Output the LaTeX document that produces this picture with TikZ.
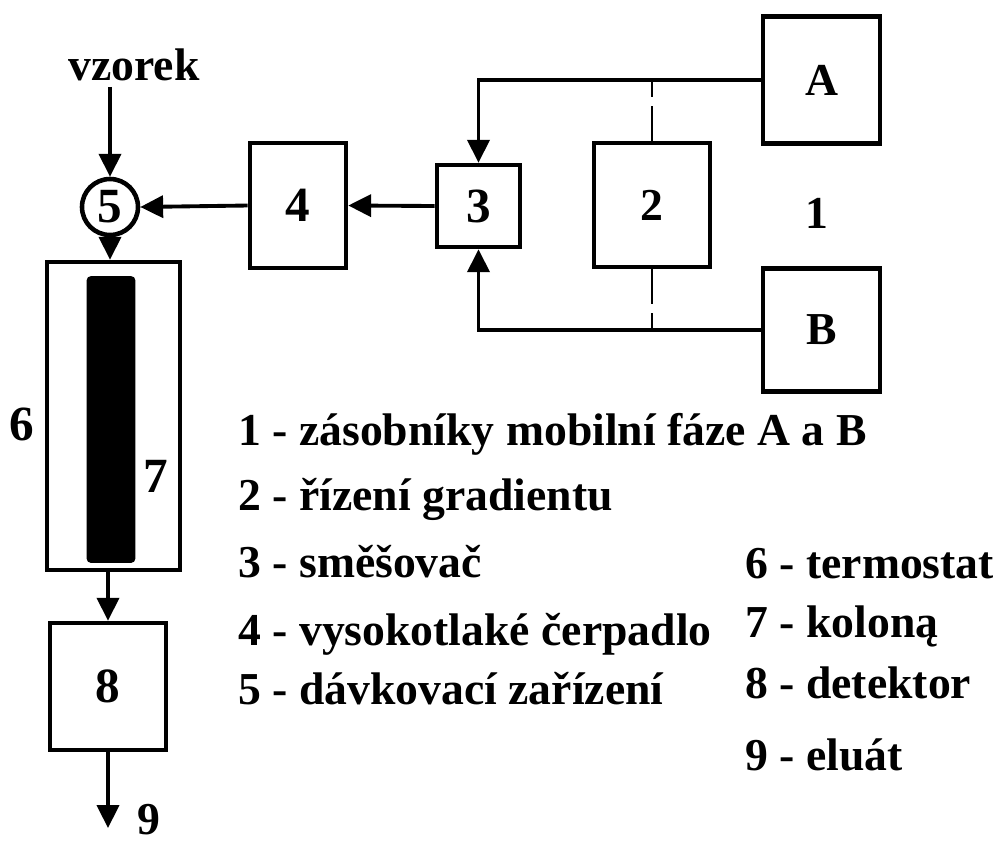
\documentclass[tikz,border=0pt]{standalone}
\usepackage{fontspec}
\setmainfont{Liberation Serif}
\usetikzlibrary{arrows.meta}
\newcommand\pxu{0.02cm}
\begin{document}
\begin{tikzpicture}[x=0.02cm,y=-0.02cm,
  every node/.style={font=\bfseries\fontsize{26}{30}\selectfont},
  box/.style={draw, line width=2.6pt, inner sep=0pt},
  flow/.style={line width=2.2pt, -{Triangle[length=13pt,width=12.5pt]}},
  ctrl/.style={line width=1.2pt, dash pattern=on 20pt off 5pt},
  legend/.style={anchor=base west, inner sep=0pt},
]
\useasboundingbox (0,0) rectangle (997,843);

% sample and injector
\node[anchor=base, inner sep=0pt] (vz) at (134,80) {vzorek};
\node[draw, circle, line width=2.6pt, minimum size=56*\pxu, inner sep=0pt, font=\bfseries\fontsize{28}{30}\selectfont] (c5) at (110,207) {5};

% thermostat and column
\node[box, minimum width=133*\pxu, minimum height=308*\pxu] (b6) at (113.5,416) {};
\node[draw, fill=black, rounded corners=2pt, line width=1pt, minimum width=47*\pxu, minimum height=285*\pxu, inner sep=0pt] (k7) at (111,419.5) {};
\node[font=\bfseries\fontsize{28}{30}\selectfont] (l6) at (22,424) {6};
\node[font=\bfseries\fontsize{28}{30}\selectfont] (l7) at (156,476) {7};

% detector
\node[box, minimum width=116*\pxu, minimum height=127*\pxu, font=\bfseries\fontsize{28}{30}\selectfont] (b8) at (108,686.5) {8};
\coordinate (out9) at (108,828);
\node[anchor=base, inner sep=0pt] (l9) at (149,834) {9};

% pump, mixer, gradient, reservoirs
\node[box, minimum width=96*\pxu, minimum height=125*\pxu, font=\bfseries\fontsize{28}{30}\selectfont] (b4) at (298,205.5) {4};
\node[box, minimum width=83*\pxu, minimum height=82*\pxu, font=\bfseries\fontsize{28}{30}\selectfont] (b3) at (478.5,206) {3};
\node[box, minimum width=116*\pxu, minimum height=124*\pxu] (b2) at (652,205) {2};
\node[box, minimum width=117*\pxu, minimum height=127*\pxu] (bA) at (821.5,80) {A};
\node[box, minimum width=117*\pxu, minimum height=123*\pxu] (bB) at (821.5,330) {B};
\node (l1) at (817,213) {1};

% connectors
\draw[flow] (c5.north |- vz.south) ++(0,6) -- (c5.north);
\draw[flow] (c5.south) -- (c5.south |- b6.north);
\draw[flow] (b8.north |- b6.south) -- (b8.north);
\draw[flow] (b8.south) -- (out9);
\draw[flow] (b4.west) -- (c5.east);
\draw[flow] (b3.west) -- (b4.east);
\draw[flow] (bA.west) -| (b3.north);
\draw[flow] (bB.west) -| (b3.south);
\draw[ctrl] (b2.north) -- (b2.north |- bA.west);
\draw[ctrl] (b2.south) -- (b2.south |- bB.west);

% legend
\node[legend] (t1) at (238,445) {1 - zásobníky mobilní fáze A a B};
\node[legend] (t2) at (238,510) {2 - řízení gradientu};
\node[legend] (t3) at (238,577) {3 - směšovač};
\node[legend] (t4) at (238,645) {4 - vysokotlaké čerpadlo};
\node[legend] (t5) at (238,704) {5 - dávkovací zařízení};
\node[legend] (t6) at (745,578) {6 - termostat};
\node[legend] (t7) at (745,637) {7 - koloną};
\node[legend] (t8) at (745,698) {8 - detektor};
\node[legend] (t9) at (745,770) {9 - eluát};
\end{tikzpicture}
\end{document}
